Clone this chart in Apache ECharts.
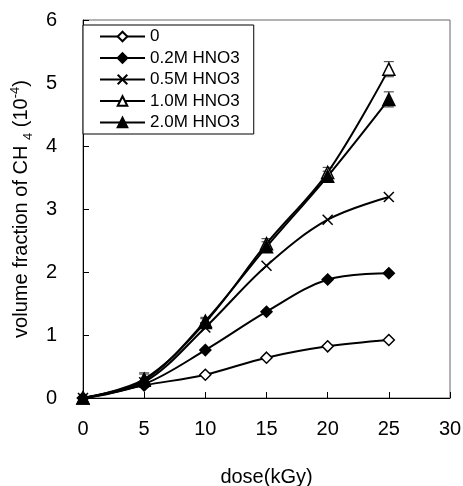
<!DOCTYPE html>
<html>
<head>
<meta charset="utf-8">
<script src="https://cdn.jsdelivr.net/npm/echarts@6/dist/echarts.min.js"></script>
<style>html,body{margin:0;padding:0;background:#fff;}#c{width:463px;height:486px;}</style>
</head>
<body>
<div id="c"></div>
<script>
var doses = [0, 5, 10, 15, 20, 25];
var seriesNames = ['0', '0.2M HNO3', '0.5M HNO3', '1.0M HNO3', '2.0M HNO3'];
var s0   = [0, 0.20, 0.37, 0.64, 0.82, 0.92];
var s02  = [0, 0.22, 0.76, 1.37, 1.88, 1.98];
var s05  = [0, 0.25, 1.12, 2.10, 2.83, 3.19];
var s10  = [0, 0.30, 1.20, 2.45, 3.58, 5.22];
var s20  = [0, 0.28, 1.22, 2.40, 3.52, 4.74];
var err10 = [0, 0.10, 0.06, 0.08, 0.08, 0.12];
var err20 = [0, 0.10, 0.06, 0.08, 0.08, 0.12];
var xTicks = [0, 5, 10, 15, 20, 25, 30];
var yTicks = [0, 1, 2, 3, 4, 5, 6];

var FONT = 'Liberation Sans, Arial, sans-serif';
var crossPath = 'path://M0,0L10,10M10,0L0,10';

function pairs(vals) { return doses.map(function (d, i) { return [d, vals[i]]; }); }
function errData(vals, errs) {
  var out = [];
  doses.forEach(function (d, i) { if (errs[i] > 0) out.push([d, vals[i] - errs[i], vals[i] + errs[i]]); });
  return out;
}

function lineSeries(name, vals, symbol, size, fill) {
  return {
    name: name, type: 'line', data: pairs(vals), smooth: 0.35,
    symbol: symbol, symbolSize: size, showAllSymbol: true,
    lineStyle: { color: '#000', width: 2 },
    itemStyle: { color: fill, borderColor: '#000', borderWidth: 1.5 },
    emphasis: { disabled: true }, z: 3
  };
}

function errSeries(vals, errs) {
  return {
    type: 'custom', data: errData(vals, errs), z: 2, silent: true,
    renderItem: function (params, api) {
      var x = api.value(0);
      var lo = api.coord([x, api.value(1)]);
      var hi = api.coord([x, api.value(2)]);
      var w = 5;
      return {
        type: 'group', children: [
          { type: 'line', shape: { x1: lo[0], y1: lo[1], x2: hi[0], y2: hi[1] }, style: { stroke: '#555', lineWidth: 1.2 } },
          { type: 'line', shape: { x1: hi[0] - w, y1: hi[1], x2: hi[0] + w, y2: hi[1] }, style: { stroke: '#555', lineWidth: 1.2 } },
          { type: 'line', shape: { x1: lo[0] - w, y1: lo[1], x2: lo[0] + w, y2: lo[1] }, style: { stroke: '#555', lineWidth: 1.2 } }
        ]
      };
    }
  };
}

var chart = echarts.init(document.getElementById('c'), null, { renderer: 'canvas' });
chart.setOption({
  animation: false,
  backgroundColor: '#fff',
  textStyle: { fontFamily: FONT },
  grid: { left: 83, right: 13, top: 20, bottom: 88, show: true, borderColor: '#666', borderWidth: 1, containLabel: false, outerBoundsMode: 'none' },
  legend: {
    data: seriesNames, orient: 'vertical', left: 83, top: 25,
    borderColor: '#000', borderWidth: 1, backgroundColor: '#fff',
    padding: [3, 14, 3, 16],
    itemWidth: 45, itemHeight: 12, itemGap: 4.5,
    textStyle: { fontFamily: FONT, fontSize: 17, color: '#000', lineHeight: 16 },
    selectedMode: false
  },
  xAxis: {
    type: 'value', min: xTicks[0], max: xTicks[xTicks.length - 1], interval: 5,
    name: 'dose(kGy)', nameLocation: 'middle', nameGap: 69,
    nameTextStyle: { fontFamily: FONT, fontSize: 20, color: '#000' },
    axisLine: { show: true, onZero: false, lineStyle: { color: '#000', width: 1 } },
    axisTick: { show: true, inside: true, length: 6, lineStyle: { color: '#000' } },
    axisLabel: { fontFamily: FONT, fontSize: 20, color: '#000', margin: 21 },
    splitLine: { show: false }
  },
  yAxis: {
    type: 'value', min: yTicks[0], max: yTicks[yTicks.length - 1], interval: 1,
    name: '{a|volume fraction of CH }{s|4}{a| (10}{p|-4}{a|)}',
    nameLocation: 'middle', nameGap: 35, nameRotate: 90,
    nameTextStyle: {
      fontFamily: FONT, fontSize: 20, color: '#000',
      rich: {
        a: { fontFamily: FONT, fontSize: 20, color: '#000', lineHeight: 26, verticalAlign: 'middle' },
        s: { fontFamily: FONT, fontSize: 13, color: '#000', lineHeight: 13, verticalAlign: 'bottom' },
        p: { fontFamily: FONT, fontSize: 13, color: '#000', lineHeight: 13, verticalAlign: 'top' }
      }
    },
    axisLine: { show: true, onZero: false, lineStyle: { color: '#000', width: 1 } },
    axisTick: { show: true, inside: true, length: 6, lineStyle: { color: '#000' } },
    axisLabel: { fontFamily: FONT, fontSize: 20, color: '#000', margin: 26 },
    splitLine: { show: false }
  },
  series: [
    errSeries(s10, err10),
    errSeries(s20, err20),
    lineSeries(seriesNames[0], s0, 'diamond', 11, '#fff'),
    lineSeries(seriesNames[1], s02, 'diamond', 11, '#000'),
    lineSeries(seriesNames[2], s05, crossPath, 10, 'none'),
    lineSeries(seriesNames[3], s10, 'triangle', 12, '#fff'),
    lineSeries(seriesNames[4], s20, 'triangle', 12, '#000')
  ]
});
</script>
</body>
</html>
